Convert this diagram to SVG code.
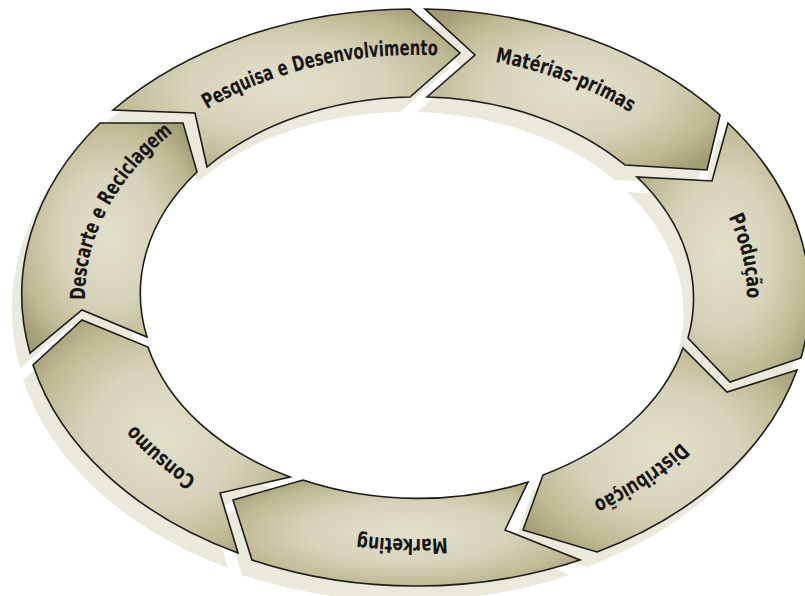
<svg xmlns="http://www.w3.org/2000/svg" xmlns:xlink="http://www.w3.org/1999/xlink" width="805" height="596" viewBox="0 0 805 596">
<style>
.node{fill:url(#segfill);stroke:#1c1c1a;stroke-width:1.6;stroke-linejoin:miter}
.shadow use{fill:#ebe9dc;stroke:none}
.lbl{fill:#161614;stroke:none;font-family:"DejaVu Sans Condensed","DejaVu Sans","Liberation Sans",sans-serif;font-stretch:condensed;font-weight:bold;font-size:21px}
</style>
<defs>
<radialGradient id="segfill" cx="0.5" cy="0.5" r="0.62">
<stop offset="0" stop-color="#e2dfca"/>
<stop offset="0.45" stop-color="#d8d4bb"/>
<stop offset="0.8" stop-color="#bfb993"/>
<stop offset="1" stop-color="#a39d74"/>
</radialGradient>
<path id="tp1" d="M 149.6 153.4 A 331 242 0 0 1 509.4 64.8"/>
<path id="tp2" d="M 380.8 56.4 A 331 242 0 0 1 713.2 190.5"/>
<path id="tp3" d="M 656.1 130.4 A 331 242 0 0 1 712.2 405.0"/>
<path id="tp4" d="M 742.3 337.8 A 331 242 0 0 1 475.2 535.1"/>
<path id="tp5" d="M 593.3 501.3 A 331 242 0 0 1 214.1 488.7"/>
<path id="tp6" d="M 315.9 527.7 A 331 242 0 0 1 85.3 307.1"/>
<path id="tp7" d="M 96.6 360.5 A 331 242 0 0 1 225.2 99.3"/>
</defs>
<rect width="805" height="596" fill="#ffffff"/>
<g class="shadow" transform="translate(-10,15)">
<use xlink:href="#seg1" href="#seg1"/>
<use xlink:href="#seg2" href="#seg2"/>
<use xlink:href="#seg3" href="#seg3"/>
<use xlink:href="#seg4" href="#seg4"/>
<use xlink:href="#seg5" href="#seg5"/>
<use xlink:href="#seg6" href="#seg6"/>
<use xlink:href="#seg7" href="#seg7"/>
</g>
<g id="node-pesquisa" class="node">
<path id="seg1" d="M 113 110 A 394 287 0 0 1 410 9 L 460 53 L 410 97 A 276 200 0 0 0 207 167 L 195 113 Z"/>
<text class="lbl"><textPath href="#tp1" xlink:href="#tp1" startOffset="50%" text-anchor="middle" textLength="240" lengthAdjust="spacingAndGlyphs">Pesquisa e Desenvolvimento</textPath></text>
</g>
<g id="node-materias" class="node">
<path id="seg2" d="M 425 9 A 394 287 0 0 1 720 115 L 707 170 L 625 165 A 276 200 0 0 0 427 97 L 475 55 Z"/>
<text class="lbl"><textPath href="#tp2" xlink:href="#tp2" startOffset="50%" text-anchor="middle" textLength="145" lengthAdjust="spacingAndGlyphs">Matérias-primas</textPath></text>
</g>
<g id="node-producao" class="node">
<path id="seg3" d="M 728 123 A 394 287 0 0 1 801 358 L 730 382 L 688 338 A 276 200 0 0 0 637 177 L 712 181 Z"/>
<text class="lbl"><textPath href="#tp3" xlink:href="#tp3" startOffset="50%" text-anchor="middle" textLength="84" lengthAdjust="spacingAndGlyphs">Produção</textPath></text>
</g>
<g id="node-distribuicao" class="node">
<path id="seg4" d="M 797 370 A 394 287 0 0 1 597 552 L 523 530 L 543 475 A 276 200 0 0 0 683 348 L 727 392 Z"/>
<text class="lbl"><textPath href="#tp4" xlink:href="#tp4" startOffset="50%" text-anchor="middle" textLength="106" lengthAdjust="spacingAndGlyphs">Distribuição</textPath></text>
</g>
<g id="node-marketing" class="node">
<path id="seg5" d="M 580 560 A 394 287 0 0 1 252 560 L 233 500 L 303 480 A 276 200 0 0 0 528 482 L 505 530 Z"/>
<text class="lbl"><textPath href="#tp5" xlink:href="#tp5" startOffset="50%" text-anchor="middle" textLength="90" lengthAdjust="spacingAndGlyphs">Marketing</textPath></text>
</g>
<g id="node-consumo" class="node">
<path id="seg6" d="M 238 553 A 394 287 0 0 1 33 365 L 82 320 L 148 347 A 276 200 0 0 0 290 477 L 220 493 Z"/>
<text class="lbl"><textPath href="#tp6" xlink:href="#tp6" startOffset="50%" text-anchor="middle" textLength="82" lengthAdjust="spacingAndGlyphs">Consumo</textPath></text>
</g>
<g id="node-descarte" class="node">
<path id="seg7" d="M 30 353 A 394 287 0 0 1 100 123 L 183 123 L 197 172 A 276 200 0 0 0 147 337 L 82 310 Z"/>
<text class="lbl"><textPath href="#tp7" xlink:href="#tp7" startOffset="50%" text-anchor="middle" textLength="196" lengthAdjust="spacingAndGlyphs">Descarte e Reciclagem</textPath></text>
</g>
</svg>
